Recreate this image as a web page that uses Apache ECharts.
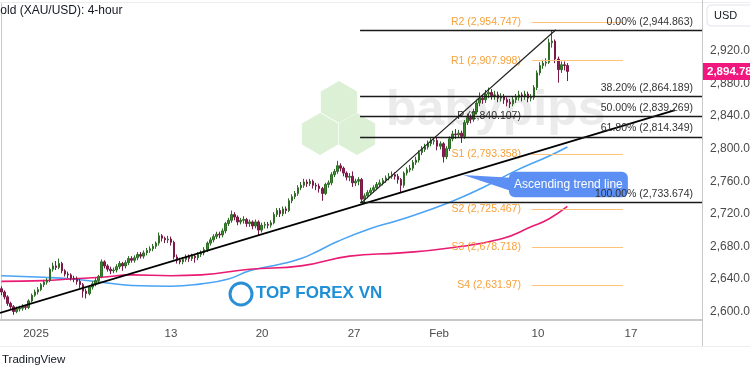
<!DOCTYPE html>
<html><head><meta charset="utf-8">
<script src="https://cdn.jsdelivr.net/npm/echarts@6/dist/echarts.min.js"></script>
<style>html,body{margin:0;padding:0;background:#fff;overflow:hidden}#c{width:750px;height:375px}</style>
</head><body><div id="c"></div>
<script>
// ---- data ----
const firstOpen = 2628;
const closes = [
2624,2618,2610,2606,2600,2603,2604,2606,2605,2613,
2620,2624,2627,2633,2636,2638,2652,2656,2654,2659,
2650,2646,2645,2641,2640,2637,2633,2625,2622,2630,
2634,2638,2643,2661,2656,2652,2650,2651,2655,2659,
2656,2660,2665,2663,2666,2670,2668,2672,2675,2677,
2680,2684,2693,2690,2688,2689,2685,2667,2663,2661,
2664,2667,2665,2668,2666,2670,2672,2676,2684,2688,
2692,2695,2694,2699,2708,2712,2719,2716,2710,2712,
2713,2708,2710,2705,2710,2700,2706,2707,2706,2709,
2719,2724,2720,2726,2724,2736,2741,2745,2752,2755,
2759,2757,2760,2755,2754,2751,2745,2756,2758,2768,
2772,2779,2776,2770,2765,2766,2758,2760,2762,2738,
2742,2746,2749,2752,2756,2758,2761,2764,2766,2768,
2766,2762,2755,2770,2774,2776,2783,2786,2795,2799,
2802,2806,2809,2810,2803,2806,2790,2800,2812,2818,
2817,2819,2815,2832,2838,2836,2845,2856,2862,2860,
2867,2869,2865,2866,2862,2864,2860,2857,2855,2860,
2863,2866,2864,2867,2862,2863,2875,2893,2902,2905,
2906,2930,2932,2910,2897,2903,2902,2894.78];
const lows = [
2620,2615,2607,2603,2596,2598,2600,2601,2602,2603,
2611,2618,2621,2625,2630,2633,2636,2649,2651,2652,
2647,2643,2641,2638,2636,2633,2629,2617,2616,2620,
2627,2631,2635,2641,2653,2649,2646,2647,2648,2652,
2650,2653,2657,2660,2660,2663,2665,2665,2669,2672,
2674,2677,2681,2686,2684,2684,2681,2664,2659,2658,
2658,2661,2661,2662,2660,2663,2667,2669,2673,2681,
2685,2689,2690,2691,2696,2705,2709,2712,2706,2707,
2708,2704,2704,2701,2702,2693,2697,2702,2702,2703,
2707,2716,2716,2717,2720,2722,2733,2738,2742,2749,
2752,2753,2754,2751,2749,2746,2736,2743,2752,2755,
2765,2769,2772,2766,2761,2760,2753,2754,2755,2733.674,
2733,2739,2743,2746,2749,2753,2755,2758,2761,2763,
2762,2757,2746,2752,2767,2771,2773,2780,2783,2792,
2796,2799,2803,2805,2798,2799,2783,2787,2797,2809,
2812,2813,2807,2812,2829,2831,2833,2842,2852,2855,
2856,2862,2860,2860,2857,2858,2855,2852,2850,2852,
2856,2859,2858,2860,2857,2858,2860,2872,2890,2898,
2901,2904,2924,2905,2881,2893,2896,2883];
const highs = [
2631,2626,2620,2612,2608,2606,2607,2609,2608,2615,
2622,2627,2630,2635,2639,2641,2654,2660,2662,2665,
2661,2652,2649,2647,2644,2643,2640,2635,2628,2632,
2637,2641,2645,2664,2663,2658,2655,2654,2658,2662,
2661,2663,2668,2668,2669,2673,2673,2675,2678,2680,
2683,2686,2697,2695,2692,2693,2692,2687,2670,2666,
2667,2670,2670,2671,2670,2673,2675,2679,2686,2691,
2695,2698,2698,2702,2710,2715,2724,2722,2718,2715,
2717,2715,2713,2712,2713,2712,2709,2710,2710,2712,
2722,2727,2727,2729,2729,2739,2744,2748,2755,2759,
2763,2762,2763,2762,2758,2757,2753,2758,2761,2771,
2775,2785,2782,2778,2772,2770,2772,2763,2765,2764,
2745,2749,2752,2755,2759,2762,2764,2767,2770,2772,
2771,2769,2764,2772,2777,2780,2786,2790,2798,2803,
2806,2810,2813,2814,2813,2809,2808,2803,2815,2822,
2824,2823,2822,2835,2843,2842,2849,2860,2869,2866,
2872,2875,2873,2871,2870,2868,2867,2863,2861,2864,
2867,2871,2869,2871,2870,2867,2878,2896,2906,2909,
2911,2935,2944.863,2934,2913,2907,2907,2905];
const barCount = 232;                       // bars incl. empty future space
const xTickIdx = [11.4, 56, 86.1, 116.5, 144.6, 177.3, 208];
const xTickLabels = ['2025', '13', '20', '27', 'Feb', '10', '17'];
const yTicks = [2600, 2640, 2680, 2720, 2760, 2800, 2840, 2880, 2920];
const blueMA = [[0,2644],[14,2642],[23,2640],[33,2636],[43,2632],[56,2631],[66,2634],[75,2640],[82,2650],[92,2658],[99,2665],[105,2675],[111,2686],[122,2702],[132,2713],[148,2734],[159,2752],[170,2773],[181,2791],[187,2802]];
const pinkMA = [[0,2637],[14,2638],[23,2640],[33,2642],[43,2645],[56,2644],[66,2645],[82,2652],[99,2656],[115,2668],[132,2672],[148,2678],[165,2689],[175,2704],[181,2714],[187,2729]];
const fibLevels = [0, 38.2, 50, 61.8, 100];
const fibPrices = [2944.863, 2864.189, 2839.269, 2814.349, 2733.674];
const fibStartIdx = 118.5;
const pivotNames = ['R2', 'R1', 'P', 'S1', 'S2', 'S3', 'S4'];
const pivotPrices = [2954.747, 2907.998, 2840.107, 2793.358, 2725.467, 2678.718, 2631.97];
const pivotStartIdx = 175.3, pivotEndIdx = 205.4;
const trendLow = [[-0.5, 2598.2], [222.6, 2847.4]];
const trendSteep = [[119, 2733.674], [183.2, 2946]];
const lastPrice = 2894.78;
const calloutTip = [152.6, 2767.6];
const calloutBox = [[167.7, 2771.7], [207, 2740.3]];
const calloutText = 'Ascending trend line';

// ---- chart ----
const FONT = '"Liberation Sans", Arial, sans-serif';
const chart = echarts.init(document.getElementById('c'));
const cats = closes.map((_, i) => String(i)).concat(Array.from({length: barCount - closes.length}, (_, k) => String(closes.length + k)));
const candleData = closes.map((c, i) => [i === 0 ? firstOpen : closes[i - 1], c, lows[i], highs[i]]);
const fmt3 = v => v.toLocaleString('en-US', {minimumFractionDigits: 0, maximumFractionDigits: 3});
const fmtFib = v => v.toLocaleString('en-US', {minimumFractionDigits: 3, maximumFractionDigits: 3});

const fibLines = fibLevels.map((lv, k) => [
  {coord: [fibStartIdx, fibPrices[k]],
   label: {formatter: lv.toFixed(2) + '% (' + fmtFib(fibPrices[k]) + ')'}},
  {coord: [barCount - 0.5, fibPrices[k]]}
]);
const pivotLines = pivotNames.map((n, k) => [
  {coord: [pivotStartIdx, pivotPrices[k]],
   label: {formatter: n + ' (' + fmt3(pivotPrices[k]) + ')', color: n === 'P' ? '#333' : '#f7a13a'}},
  {coord: [pivotEndIdx, pivotPrices[k]]}
]);

const option = {
  animation: false,
  backgroundColor: '#ffffff',
  textStyle: {fontFamily: FONT},
  grid: {left: 0, right: 48, top: 3, bottom: 55, containLabel: false, outerBoundsMode: 'none'},
  xAxis: [
    {type: 'category', data: cats, boundaryGap: true,
     axisLine: {show: true, lineStyle: {color: '#c8c8c8', width: 2}},
     axisTick: {show: false}, axisLabel: {show: false}, splitLine: {show: false}},
    {type: 'value', min: -0.5, max: barCount - 0.5, position: 'bottom',
     axisLine: {show: false}, axisTick: {show: false}, splitLine: {show: false},
     axisLabel: {customValues: xTickIdx, color: '#4a4a4a', fontSize: 11.5, margin: 8, fontFamily: FONT,
       formatter: v => { const k = xTickIdx.indexOf(v); return k >= 0 ? xTickLabels[k] : ''; }}}
  ],
  yAxis: {type: 'value', position: 'right', min: 2589.6, max: 2978.8, scale: true,
    axisLine: {show: true, lineStyle: {color: '#c8c8c8', width: 1}},
    axisTick: {show: false}, splitLine: {show: false},
    axisLabel: {customValues: yTicks, color: '#4a4a4a', fontSize: 12, margin: 8, fontFamily: FONT,
      formatter: v => v.toLocaleString('en-US', {minimumFractionDigits: 2, maximumFractionDigits: 2})}},
  series: [
    {type: 'candlestick', xAxisIndex: 0, yAxisIndex: 0, data: candleData, barWidth: 2, z: 3,
     itemStyle: {color: '#3b8a2f', color0: '#8e1d55', borderColor: '#2e6b25', borderColor0: '#7a1848', borderWidth: 1}},
    {type: 'line', xAxisIndex: 1, data: blueMA, smooth: 0.5, showSymbol: false, silent: true, z: 2,
     lineStyle: {color: '#4aa3f4', width: 1.6}},
    {type: 'line', xAxisIndex: 1, data: pinkMA, smooth: 0.5, showSymbol: false, silent: true, z: 2,
     lineStyle: {color: '#ea1b74', width: 1.6}},
    {type: 'line', xAxisIndex: 1, data: trendLow, showSymbol: false, silent: true, z: 5,
     lineStyle: {color: '#000', width: 1.8}},
    {type: 'line', xAxisIndex: 1, data: trendSteep, showSymbol: false, silent: true, z: 5,
     lineStyle: {color: '#222', width: 1.2}},
    {type: 'line', xAxisIndex: 1, data: [], silent: true, z: 4,
     markLine: {silent: true, symbol: 'none', animation: false, data: pivotLines, z: 4,
       lineStyle: {color: '#ffc27a', width: 1, type: 'solid'},
       label: {position: 'start', distance: 11, fontSize: 10.5, fontFamily: FONT}}},
    {type: 'line', xAxisIndex: 1, data: [], silent: true, z: 8, zlevel: 1,
     markLine: {silent: true, symbol: 'none', animation: false, data: fibLines, zlevel: 1, z: 10,
       lineStyle: {color: '#1a1a1a', width: 1.3, type: 'solid'},
       label: {position: 'insideEndTop', distance: [9, 3], color: '#333', fontSize: 10.5, fontFamily: FONT}}}
  ]
};
chart.setOption(option);

// annotations positioned from data coordinates
const px = (i, p) => chart.convertToPixel({xAxisIndex: 1, yAxisIndex: 0}, [i, p]);
const tip = px(calloutTip[0], calloutTip[1]);
const b0 = px(calloutBox[0][0], calloutBox[0][1]);
const b1 = px(calloutBox[1][0], calloutBox[1][1]);
const lastY = px(0, lastPrice)[1];
const bh = b1[1] - b0[1];

const hex = (cx, cy, r) => {
  const pts = [];
  for (let k = 0; k < 6; k++) { const a = Math.PI / 3 * k - Math.PI / 2; pts.push([cx + r * Math.cos(a), cy + r * Math.sin(a)]); }
  return pts;
};

chart.setOption({graphic: [
  // watermarks
  {type: 'polygon', shape: {points: hex(339, 102, 21)}, style: {fill: '#dcf0d6'}, z: 0, silent: true},
  {type: 'polygon', shape: {points: hex(320, 134, 21)}, style: {fill: '#dcf0d6'}, z: 0, silent: true},
  {type: 'polygon', shape: {points: hex(357, 134, 21)}, style: {fill: '#dcf0d6'}, z: 0, silent: true},
  {type: 'text', x: 386, y: 86, style: {text: 'babypips', font: 'bold 50px "Liberation Sans", Arial, sans-serif', fill: '#ebebeb'}, z: 0, silent: true},
  {type: 'circle', shape: {cx: 241, cy: 294, r: 11}, style: {fill: 'none', stroke: '#2a8fd6', lineWidth: 3}, z: 0, silent: true},
  {type: 'text', x: 256, y: 285, style: {text: 'TOP FOREX VN', font: 'bold 17px "Liberation Sans", Arial, sans-serif', fill: '#1f8fd6'}, z: 0, silent: true},
  // callout
  {type: 'polygon', shape: {points: [[tip[0], tip[1]], [b0[0] + 6, b0[1] + bh * 0.25], [b0[0] + 6, b0[1] + bh * 0.8]]}, style: {fill: '#5b8ff3'}, z: 6, silent: true},
  {type: 'rect', shape: {x: b0[0], y: b0[1], width: b1[0] - b0[0], height: bh, r: 6}, style: {fill: '#5b8ff3'}, z: 6, silent: true},
  {type: 'text', x: (b0[0] + b1[0]) / 2, y: b0[1] + bh / 2, style: {text: calloutText, align: 'center', verticalAlign: 'middle', font: '12px "Liberation Sans", Arial, sans-serif', fill: '#fff'}, z: 7, silent: true},
  // title & frame
  {type: 'text', x: -9, y: 5, style: {text: 'Gold (XAU/USD): 4-hour', font: '12px "Liberation Sans", Arial, sans-serif', fill: '#131722'}, z: 30, silent: true},
  {type: 'line', shape: {x1: 0, y1: 2.5, x2: 750, y2: 2.5}, style: {stroke: '#ececec', lineWidth: 1}, z: 30, silent: true},
  {type: 'line', shape: {x1: 702.5, y1: 0, x2: 702.5, y2: 346}, style: {stroke: '#c8c8c8', lineWidth: 1}, z: 30, silent: true},
  {type: 'line', shape: {x1: 0, y1: 346.5, x2: 750, y2: 346.5}, style: {stroke: '#eeeeee', lineWidth: 1}, z: 30, silent: true},
  {type: 'rect', shape: {x: 707, y: 5, width: 48, height: 21, r: 4}, style: {fill: '#fff', stroke: '#e0e3eb', lineWidth: 1}, z: 30, silent: true},
  {type: 'text', x: 714, y: 15.5, style: {text: 'USD', verticalAlign: 'middle', font: '11px "Liberation Sans", Arial, sans-serif', fill: '#131722'}, z: 31, silent: true},
  {type: 'rect', shape: {x: 703, y: lastY - 8.5, width: 48, height: 17}, style: {fill: '#f0177f'}, z: 30, silent: true},
  {type: 'text', x: 707, y: lastY, style: {text: lastPrice.toLocaleString('en-US', {minimumFractionDigits: 2}), verticalAlign: 'middle', font: 'bold 11.5px "Liberation Sans", Arial, sans-serif', fill: '#fff'}, z: 31, silent: true},
  {type: 'text', x: 2, y: 360, style: {text: 'TradingView', verticalAlign: 'middle', font: '11.5px "Liberation Sans", Arial, sans-serif', fill: '#131722'}, z: 30, silent: true}
]});
</script>
</body></html>
